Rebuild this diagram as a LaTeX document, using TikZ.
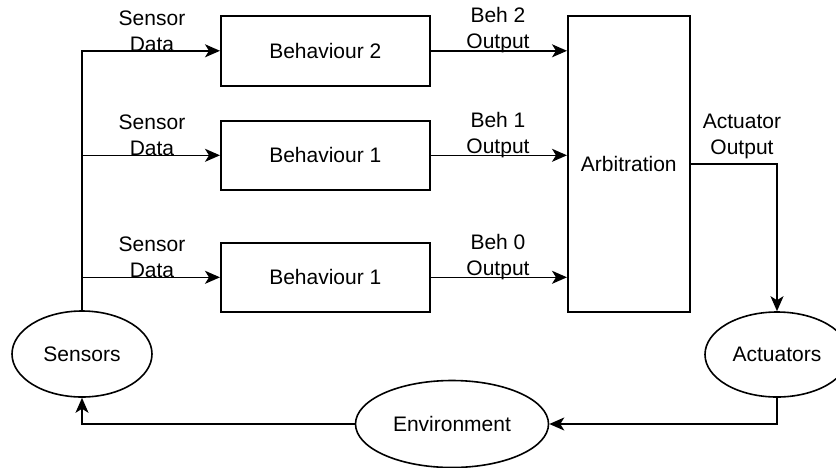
\documentclass[tikz,border=0pt]{standalone}
\usepackage{fontspec}
\setmainfont{Liberation Sans}
\usetikzlibrary{shapes.geometric,arrows.meta}
\begin{document}
\begin{tikzpicture}[x=1pt,y=-1pt,
  font=\fontsize{21}{26}\selectfont,
  line width=1.6pt,
  box/.style={draw,rectangle,inner sep=0pt,anchor=north west},
  oval/.style={draw,ellipse,inner sep=0pt},
  arr/.style={-{Stealth[length=15pt,width=13pt,inset=4pt]}},
  lbl/.style={align=center,inner sep=0pt}]
\useasboundingbox (0,0) rectangle (836,467);
\clip (0,0) rectangle (836,467);

% behaviour blocks and arbiter
\node[box,minimum width=209pt,minimum height=70pt] (b2) at (220,15) {Behaviour 2};
\node[box,minimum width=209pt,minimum height=69pt] (b1) at (220,120) {Behaviour 1};
\node[box,minimum width=209pt,minimum height=69pt] (b0) at (220,242) {Behaviour 1};
\node[box,minimum width=122pt,minimum height=296pt] (arb) at (567,15) {Arbitration};

% sensors, actuators, environment
\node[oval,minimum width=140pt,minimum height=86pt] (sens) at (82,354) {Sensors};
\node[oval,minimum width=144pt,minimum height=85pt] (act) at (777,354.5) {Actuators};
\node[oval,minimum width=193pt,minimum height=87pt] (env) at (452,424) {Environment};

% sensor data fan-out
\draw[arr] (sens.north) |- (b2.west);
\draw[arr] (sens.north) |- (b1.west);
\draw[arr] (sens.north) |- (b0.west);

% behaviour outputs into the arbiter
\draw[arr] (b2.east) -- (arb.west |- b2.east);
\draw[arr] (b1.east) -- (arb.west |- b1.east);
\draw[arr] (b0.east) -- (arb.west |- b0.east);

% actuation loop
\draw[arr] (arb.east) -| (act.north);
\draw[arr] (act.south) |- (env.east);
\draw[arr] (env.west) -| (sens.south);

% connector labels
\node[lbl] (sd2) at (152,31) {Sensor\\Data};
\node[lbl] (sd1) at (152,135) {Sensor\\Data};
\node[lbl] (sd0) at (152,257) {Sensor\\Data};
\node[lbl] (bo2) at (498,30) {Beh 2\\Output};
\node[lbl] (bo1) at (498,135) {Beh 1\\Output};
\node[lbl] (bo0) at (498,257) {Beh 0\\Output};
\node[lbl] (ao) at (742,136) {Actuator\\Output};
\end{tikzpicture}
\end{document}
